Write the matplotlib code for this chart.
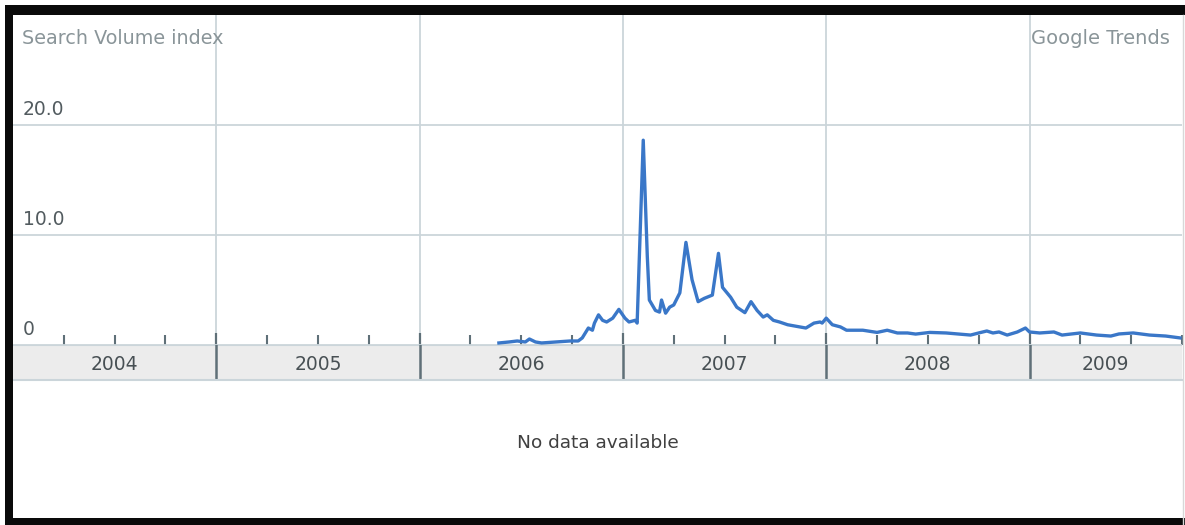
import matplotlib
matplotlib.use("Agg")
import matplotlib.pyplot as plt
from matplotlib.patches import Rectangle
import numpy as np

# === Datos (anio decimal, indice) ===
dates = [2006.39, 2006.44, 2006.48, 2006.52, 2006.54, 2006.57, 2006.60, 2006.67,
         2006.74, 2006.78, 2006.80, 2006.83, 2006.85, 2006.86, 2006.88, 2006.90,
         2006.92, 2006.95, 2006.98, 2007.01, 2007.03, 2007.06, 2007.07, 2007.10,
         2007.12, 2007.13, 2007.16, 2007.18, 2007.19, 2007.21, 2007.23, 2007.25,
         2007.28, 2007.31, 2007.34, 2007.37, 2007.40, 2007.44, 2007.47, 2007.49,
         2007.53, 2007.56, 2007.60, 2007.63, 2007.66, 2007.69, 2007.71, 2007.74,
         2007.77, 2007.81, 2007.90, 2007.94, 2007.97, 2007.98, 2008.00, 2008.03,
         2008.07, 2008.10, 2008.18, 2008.25, 2008.30, 2008.35, 2008.40, 2008.44,
         2008.51, 2008.59, 2008.71, 2008.75, 2008.79, 2008.82, 2008.85, 2008.89,
         2008.94, 2008.98, 2009.00, 2009.05, 2009.12, 2009.16, 2009.25, 2009.33,
         2009.40, 2009.44, 2009.51, 2009.59, 2009.67, 2009.74]
volume = [0.14, 0.23, 0.32, 0.23, 0.50, 0.23, 0.14, 0.23,
          0.32, 0.32, 0.60, 1.50, 1.30, 1.95, 2.70, 2.20,
          2.05, 2.40, 3.20, 2.40, 2.05, 2.20, 1.95, 18.6,
          8.00, 4.05, 3.10, 2.95, 4.05, 2.85, 3.40, 3.60,
          4.70, 9.30, 5.90, 3.90, 4.20, 4.50, 8.30, 5.20,
          4.30, 3.40, 2.90, 3.90, 3.10, 2.50, 2.70, 2.20,
          2.05, 1.80, 1.50, 1.95, 2.05, 1.95, 2.40, 1.80,
          1.60, 1.30, 1.30, 1.10, 1.30, 1.05, 1.05, 0.95,
          1.10, 1.05, 0.86, 1.05, 1.23, 1.05, 1.14, 0.86,
          1.14, 1.50, 1.14, 1.05, 1.14, 0.86, 1.05, 0.86,
          0.77, 0.96, 1.05, 0.86, 0.77, 0.60]

years = [2004, 2005, 2006, 2007, 2008, 2009]
y_ticks = [10, 20]
y_labels = ["10.0", "20.0"]
X_MIN, X_MAX = 2004.0, 2009.75

# === Colores ===
GRID = '#cbd5da'
TICK = '#5f7078'
LINE = '#3a77c8'

W, H = 1185, 525
fig = plt.figure(figsize=(W / 100, H / 100), dpi=100)


def fbox(x0, y0, x1, y1):
    # pixeles (desde arriba) -> coordenadas de figura
    return [x0 / W, 1 - y1 / H, (x1 - x0) / W, (y1 - y0) / H]


# === Grafica principal ===
ax = fig.add_axes(fbox(13, 15, 1182, 344.5))
ax.plot(dates, volume, color=LINE, lw=2.4, solid_joinstyle='round', zorder=3)
ax.set_xlim(X_MIN, X_MAX)
ax.set_ylim(0, 30)
ax.set_xticks(years[1:])
ax.set_xticks([y + q for y in years for q in (0.25, 0.5, 0.75)], minor=True)
ax.set_yticks([0] + y_ticks)
ax.grid(True, which='major', color=GRID, lw=1.3)
ax.tick_params(axis='x', which='major', direction='in', length=8.5, width=1.6,
               color=TICK, labelbottom=False)
ax.tick_params(axis='x', which='minor', direction='in', length=7, width=1.5,
               color=TICK)
ax.tick_params(axis='y', length=0, labelleft=False)
for s in ax.spines.values():
    s.set_visible(False)

for v, lab in zip([0] + y_ticks, ["0"] + y_labels):
    ax.annotate(lab, xy=(0, v), xycoords=('axes fraction', 'data'),
                xytext=(7, 4), textcoords='offset points', ha='left',
                va='bottom', fontsize=13.5, color='#525b5f')

ax.text(0.008, 0.93, "Search Volume index", transform=ax.transAxes,
        ha='left', va='center', fontsize=13.8, color='#8a9599')
ax.text(0.9895, 0.93, "Google Trends", transform=ax.transAxes,
        ha='right', va='center', fontsize=14, color='#8a9599')

# === Banda de anios ===
band = fig.add_axes(fbox(13, 344.5, 1182, 380), sharex=ax)
band.set_facecolor('#ececec')
band.set_ylim(0, 1)
for s in ['top', 'left', 'right']:
    band.spines[s].set_visible(False)
band.spines['bottom'].set_color(GRID)
band.spines['bottom'].set_linewidth(1.5)
band.tick_params(axis='both', which='both', length=0, labelbottom=False,
                 labelleft=False)
band.axhline(1, color=GRID, lw=1.5)
for y in years[1:]:
    band.axvline(y, color=TICK, lw=1.8)
for y in years:
    c = (max(y, X_MIN) + min(y + 1, X_MAX)) / 2
    band.text(c, 0.45, str(y), ha='center', va='center', fontsize=13.5,
              color='#485054')

fig.text(598 / W, 1 - 443 / H, "No data available", ha='center', va='center',
         fontsize=13.3, color='#404040')

# === Marco negro ===
for box in [fbox(5, 5, 1185, 15), fbox(5, 5, 13, 525), fbox(5, 518, 1185, 525)]:
    fig.add_artist(Rectangle(box[:2], box[2], box[3], transform=fig.transFigure,
                             color='#0a0a0a', lw=0))
fig.add_artist(plt.Line2D([1182.5 / W] * 2, [0, 1 - 15 / H], color='#d8d8d8',
                          lw=1, transform=fig.transFigure))

fig.savefig("out.png", dpi=100)
